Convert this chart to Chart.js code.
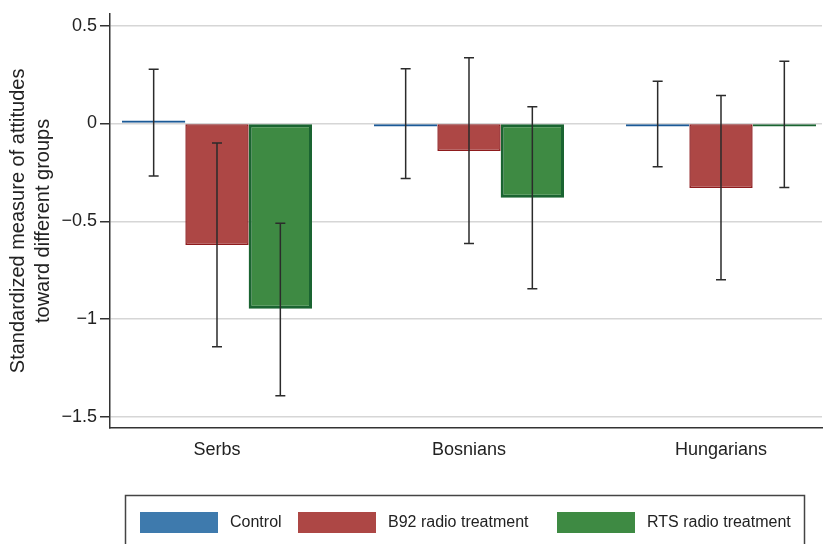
<!DOCTYPE html>
<html>
<head>
<meta charset="utf-8">
<script src="https://cdn.jsdelivr.net/npm/chart.js@4/dist/chart.umd.min.js"></script>
<style>
  body { margin: 0; background: #fff; }
  #wrap { width: 823px; height: 544px; position: relative; }
</style>
</head>
<body>
<div id="wrap"><canvas id="attChart"></canvas></div>
<script>
// groups on the x axis
const categories = ["Serbs", "Bosnians", "Hungarians"];
const seriesNames = ["Control", "B92 radio treatment", "RTS radio treatment"];

// bar heights
const controlVals = [0.01, -0.003, -0.003];
const b92Vals = [-0.621, -0.141, -0.330];
const rtsVals = [-0.947, -0.380, -0.005];

// confidence intervals
const controlLo = [-0.269, -0.281, -0.221];
const controlHi = [0.277, 0.279, 0.216];
const b92Lo = [-1.141, -0.614, -0.799];
const b92Hi = [-0.100, 0.335, 0.143];
const rtsLo = [-1.391, -0.844, -0.327];
const rtsHi = [-0.510, 0.085, 0.318];

const yTicks = [-1.5, -1, -0.5, 0, 0.5];

const fills = ["#3e7aad", "#ad4745", "#3e8a43"];
const borders = ["#1b5a97", "#8e1b1d", "#1a6431"];

const errLo = [controlLo, b92Lo, rtsLo];
const errHi = [controlHi, b92Hi, rtsHi];

function pts(vals) {
    return vals.map((v, i) => ({ x: i, y: v }));
}

// a bar that is basically zero shows up only as its outline colour
function barFill(d) {
    return c => (c.raw && Math.abs(c.raw.y) < 0.02 ? borders[d] : fills[d]);
}

// error bars drawn on top of the bars
const errorBars = {
    id: "errorBars",
    afterDatasetsDraw(chart) {
        const ctx = chart.ctx;
        const y = chart.scales.y;
        ctx.save();
        ctx.strokeStyle = "#2b2b2b";
        ctx.lineWidth = 1.5;
        chart.data.datasets.forEach((ds, d) => {
            const meta = chart.getDatasetMeta(d);
            meta.data.forEach((bar, i) => {
                const x = bar.x;
                const top = y.getPixelForValue(errHi[d][i]);
                const bot = y.getPixelForValue(errLo[d][i]);
                ctx.beginPath();
                ctx.moveTo(x, top); ctx.lineTo(x, bot);
                ctx.moveTo(x - 5, top); ctx.lineTo(x + 5, top);
                ctx.moveTo(x - 5, bot); ctx.lineTo(x + 5, bot);
                ctx.stroke();
            });
        });
        ctx.restore();
    }
};

// boxed legend like the stata one
const boxLegend = {
    id: "boxLegend",
    afterDraw(chart) {
        const ctx = chart.ctx;
        ctx.save();
        ctx.strokeStyle = "#444";
        ctx.lineWidth = 1.5;
        ctx.strokeRect(125.5, 495.5, 679, 70);
        const swatchX = [140, 298, 557];
        ctx.font = "16px 'Liberation Sans', Arial, sans-serif";
        ctx.textBaseline = "middle";
        chart.data.datasets.forEach((ds, d) => {
            ctx.fillStyle = fills[d];
            ctx.fillRect(swatchX[d], 512, 78, 21);
            ctx.fillStyle = "#222";
            ctx.fillText(ds.label, swatchX[d] + 90, 523);
        });
        ctx.restore();
    }
};

const ctx = document.getElementById("attChart").getContext("2d");
new Chart(ctx, {
    type: "bar",
    data: {
        datasets: [
            { label: seriesNames[0], data: pts(controlVals), backgroundColor: barFill(0), borderColor: borders[0], borderWidth: 1.5, minBarLength: 3 },
            { label: seriesNames[1], data: pts(b92Vals), backgroundColor: barFill(1), borderColor: borders[1], borderWidth: 1.5, minBarLength: 3 },
            { label: seriesNames[2], data: pts(rtsVals), backgroundColor: barFill(2), borderColor: borders[2], borderWidth: 3, minBarLength: 3 }
        ]
    },
    options: {
        responsive: true,
        maintainAspectRatio: false,
        animation: false,
        categoryPercentage: 0.754,
        barPercentage: 1.0,
        borderSkipped: false,
        layout: { padding: { left: 0, right: 1, top: 12, bottom: 0 } },
        plugins: {
            legend: { display: false },
            tooltip: { enabled: false }
        },
        scales: {
            x: {
                type: "linear",
                offset: false,
                min: -0.4246,
                max: 2.4008,
                afterBuildTicks: s => { s.ticks = categories.map((c, i) => ({ value: i })); },
                afterFit: s => { s.height = 116; },
                grid: { display: false, drawTicks: false },
                border: { display: true, color: "#333", width: 1.5 },
                ticks: {
                    padding: 11,
                    color: "#222",
                    font: { family: "'Liberation Sans', Arial, sans-serif", size: 18 },
                    callback: v => categories[v]
                }
            },
            y: {
                min: -1.556,
                max: 0.56,
                afterBuildTicks: s => { s.ticks = yTicks.map(v => ({ value: v })); },
                afterFit: s => { s.width = 110; },
                grid: { color: "#d6d6d6", lineWidth: 1.5, tickColor: "#333", tickLength: 10 },
                border: { display: true, color: "#333", width: 1.5 },
                ticks: {
                    padding: 3,
                    color: "#222",
                    font: { family: "'Liberation Sans', Arial, sans-serif", size: 18 },
                    callback: v => (v < 0 ? "\u2212" + Math.abs(v) : String(v))
                },
                title: {
                    display: true,
                    text: ["Standardized measure of attitudes", "toward different groups"],
                    color: "#222",
                    padding: { top: 6, bottom: 0 },
                    font: { family: "'Liberation Sans', Arial, sans-serif", size: 20, lineHeight: 1.25 }
                }
            }
        }
    },
    plugins: [errorBars, boxLegend]
});
</script>
</body>
</html>
